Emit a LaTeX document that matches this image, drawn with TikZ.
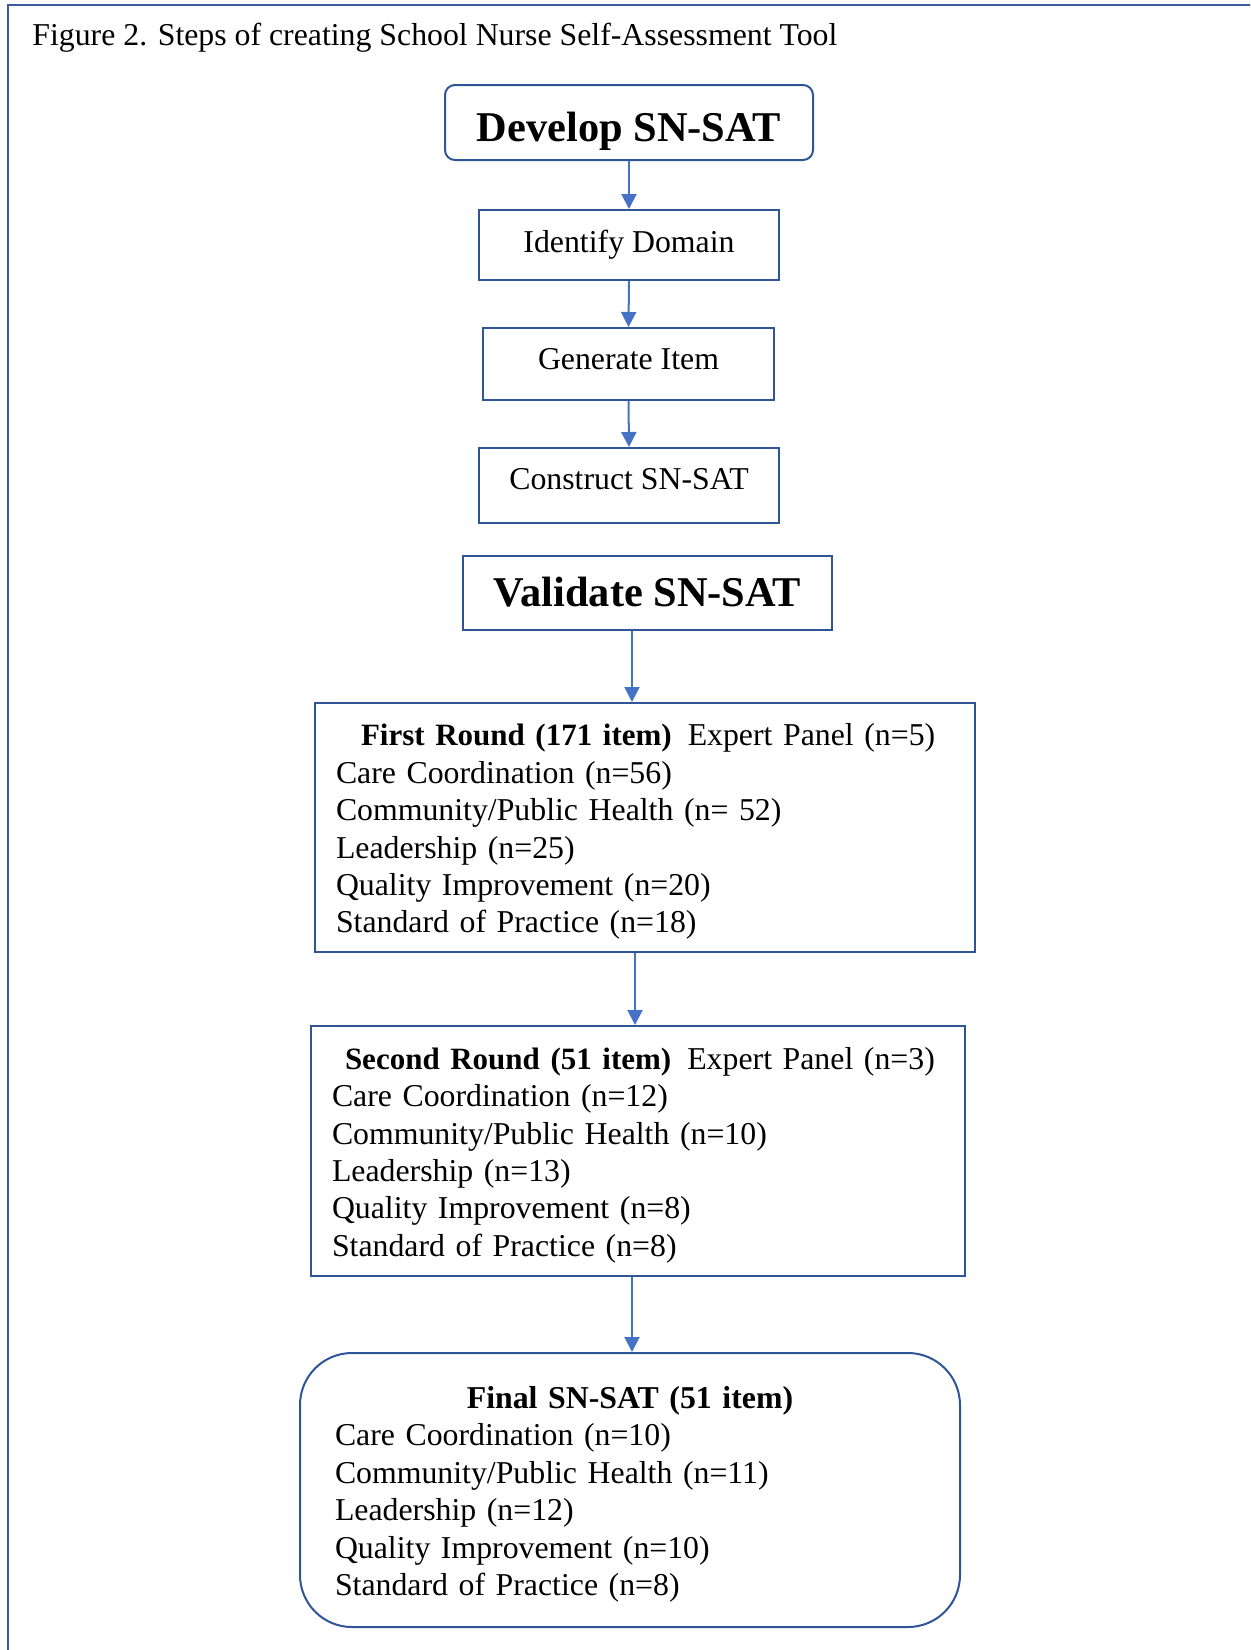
\documentclass[tikz,border=0pt]{standalone}
\usepackage{fontspec}
\setmainfont{Liberation Serif}
\usetikzlibrary{arrows.meta,calc}
\definecolor{frameblue}{HTML}{3B5C9C}
\definecolor{boxblue}{HTML}{2F5597}
\definecolor{arrblue}{HTML}{4472C4}
\newcommand{\shiftup}[2]{\raisebox{#1}[\height][\depth]{#2}}
\newcommand{\hdr}[1]{{\fontsize{15.5pt}{18.7pt}\selectfont\bfseries #1}}
\begin{document}
\begin{tikzpicture}[x=0.5pt,y=-0.5pt,
  every node/.style={font=\fontsize{15.9pt}{18.7pt}\selectfont},
  plainbox/.style={draw=boxblue,line width=1pt,inner sep=0pt,align=center},
  roundbox/.style={plainbox,rounded corners=5pt},
  bigtitle/.style={font=\fontsize{21.2pt}{25pt}\selectfont\bfseries},
  listbox/.style={draw=boxblue,line width=1pt,inner sep=0pt,align=left},
  arr/.style={draw=arrblue,line width=1pt,-{Triangle[width=7.5pt,length=7.5pt]}},
]
\useasboundingbox (0,0) rectangle (1250,1650);
\clip (0,0) rectangle (1250,1650);
\draw[frameblue,line width=1.15pt] (1270,5) -- (8,5) -- (8,1670);

\node[anchor=base west,inner sep=0pt] (title) at (32,45) {Figure 2. Steps of creating School Nurse Self-Assessment Tool};

\node[roundbox,bigtitle,minimum width=184pt,minimum height=37.5pt] (dev) at (629,122.5) {\shiftup{-4.2pt}{Develop SN-SAT}};
\node[plainbox,minimum width=150pt,minimum height=35pt] (ident) at (629,245) {Identify Domain};
\node[plainbox,minimum width=145.5pt,minimum height=36pt] (gen) at (628.5,364) {\shiftup{2.5pt}{Generate Item}};
\node[plainbox,minimum width=150pt,minimum height=37.5pt] (cons) at (629,485.5) {\shiftup{3.3pt}{Construct SN-SAT}};
\node[plainbox,bigtitle,minimum width=184.5pt,minimum height=37pt] (val) at (647.5,593) {\shiftup{0.5pt}{Validate SN-SAT}};

\node[listbox,minimum width=330pt,minimum height=124.5pt,text width=309pt] (first) at (645,827.5)
 {\rule{0pt}{15.2pt}\hspace*{12.5pt}\hdr{First Round (171 item)}\hspace{8pt}Expert Panel (n=5)\\
  Care Coordination (n=56)\\
  Community/Public Health (n= 52)\\
  Leadership (n=25)\\
  Quality Improvement (n=20)\\
  Standard of Practice (n=18)};

\node[listbox,minimum width=327pt,minimum height=125pt,text width=306pt] (second) at (638,1151)
 {\rule{0pt}{15.2pt}\mbox{\hspace*{6.5pt}\hdr{Second Round (51 item)}\hspace{8pt}Expert Panel (n=3)}\\
  Care Coordination (n=12)\\
  Community/Public Health (n=10)\\
  Leadership (n=13)\\
  Quality Improvement (n=8)\\
  Standard of Practice (n=8)};

\node[listbox,rounded corners=26pt,minimum width=330pt,minimum height=137pt,text width=295pt] (final) at (630,1490)
 {\rule{0pt}{15.4pt}\makebox[295pt][c]{\textbf{Final SN-SAT (51 item)}}\\
  Care Coordination (n=10)\\
  Community/Public Health (n=11)\\
  Leadership (n=12)\\
  Quality Improvement (n=10)\\
  Standard of Practice (n=8)};

\coordinate (ax4) at (632,0);
\coordinate (ax5) at (635,0);
\coordinate (ax6) at (632,0);
\draw[arr] (dev.south) -- (ident.north);
\draw[arr] (ident.south) -- (gen.north);
\draw[arr] (gen.south) -- (cons.north);
\draw[arr] (val.south -| ax4) -- (first.north -| ax4);
\draw[arr] (first.south -| ax5) -- (second.north -| ax5);
\draw[arr] (second.south -| ax6) -- (final.north -| ax6);
\end{tikzpicture}
\end{document}
